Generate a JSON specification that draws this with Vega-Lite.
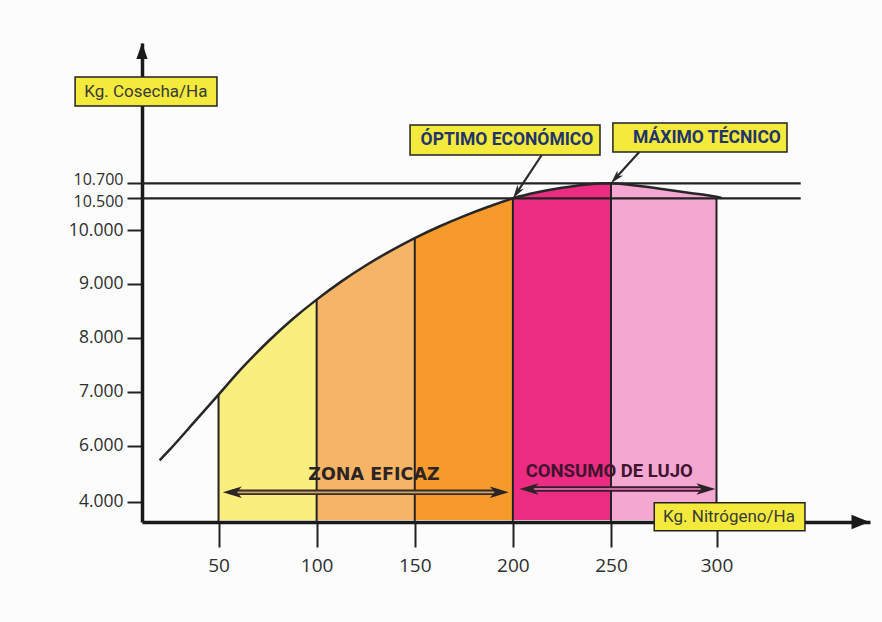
{
  "$schema": "https://vega.github.io/schema/vega-lite/v6.json",
  "autosize": "none",
  "width": 728,
  "height": 479,
  "padding": {"left": 142, "top": 43, "right": 12, "bottom": 100},
  "background": "#fcfcfc",
  "config": {"view": {"stroke": null}, "axis": {"grid": false}},
  "datasets": {
    "curve": [
      {"N": 20, "Y": 5479}, {"N": 25, "Y": 5848}, {"N": 37.5, "Y": 6432}, {"N": 50, "Y": 6948},
      {"N": 62.5, "Y": 7461}, {"N": 75, "Y": 7923}, {"N": 87.5, "Y": 8339}, {"N": 100, "Y": 8709},
      {"N": 112.5, "Y": 9043}, {"N": 125, "Y": 9342}, {"N": 137.5, "Y": 9609}, {"N": 150, "Y": 9850},
      {"N": 162.5, "Y": 10055}, {"N": 175, "Y": 10219}, {"N": 187.5, "Y": 10366}, {"N": 200, "Y": 10500},
      {"N": 212.5, "Y": 10580}, {"N": 225, "Y": 10640}, {"N": 237.5, "Y": 10685}, {"N": 250, "Y": 10700},
      {"N": 262.5, "Y": 10668}, {"N": 275, "Y": 10622}, {"N": 287.5, "Y": 10572}, {"N": 300, "Y": 10520},
      {"N": 302.5, "Y": 10505}
    ],
    "bands": [
      {"band": "50-100", "N": 50, "Y": 6948}, {"band": "50-100", "N": 62.5, "Y": 7461}, {"band": "50-100", "N": 75, "Y": 7923}, {"band": "50-100", "N": 87.5, "Y": 8339}, {"band": "50-100", "N": 100, "Y": 8709},
      {"band": "100-150", "N": 100, "Y": 8709}, {"band": "100-150", "N": 112.5, "Y": 9043}, {"band": "100-150", "N": 125, "Y": 9342}, {"band": "100-150", "N": 137.5, "Y": 9609}, {"band": "100-150", "N": 150, "Y": 9850},
      {"band": "150-200", "N": 150, "Y": 9850}, {"band": "150-200", "N": 162.5, "Y": 10055}, {"band": "150-200", "N": 175, "Y": 10219}, {"band": "150-200", "N": 187.5, "Y": 10366}, {"band": "150-200", "N": 200, "Y": 10500},
      {"band": "200-250", "N": 200, "Y": 10500}, {"band": "200-250", "N": 212.5, "Y": 10580}, {"band": "200-250", "N": 225, "Y": 10640}, {"band": "200-250", "N": 237.5, "Y": 10685}, {"band": "200-250", "N": 250, "Y": 10700},
      {"band": "250-300", "N": 250, "Y": 10700}, {"band": "250-300", "N": 262.5, "Y": 10668}, {"band": "250-300", "N": 275, "Y": 10622}, {"band": "250-300", "N": 287.5, "Y": 10572}, {"band": "250-300", "N": 300, "Y": 10520}
    ],
    "vlines": [
      {"N": 50, "Y": 6948}, {"N": 100, "Y": 8709}, {"N": 150, "Y": 9850},
      {"N": 200, "Y": 10500}, {"N": 250, "Y": 10700}, {"N": 300, "Y": 10520}
    ],
    "hlines": [
      {"N": 11, "N2": 341.7, "Y": 10500},
      {"N": 11, "N2": 341.7, "Y": 10700}
    ],
    "boxes": [
      {"N": -23.1, "N2": 49.2, "Y": 11763, "Y2": 11473},
      {"N": 147.6, "N2": 244.4, "Y": 11283, "Y2": 10983},
      {"N": 250.9, "N2": 334.9, "Y": 11303, "Y2": 11013},
      {"N": 270.5, "N2": 343.8, "Y": 3962, "Y2": 2929}
    ],
    "plainLabels": [
      {"N": 13.0, "Y": 11618, "label": "Kg. Cosecha/Ha"},
      {"N": 306.2, "Y": 3446, "label": "Kg. Nitrógeno/Ha"}
    ],
    "boldLabels": [
      {"N": 197.0, "Y": 11133, "label": "ÓPTIMO ECONÓMICO"},
      {"N": 295.5, "Y": 11158, "label": "MÁXIMO TÉCNICO"}
    ],
    "zonaLabel": [{"N": 129.2, "Y": 4964, "label": "ZONA EFICAZ"}],
    "lujoLabel": [{"N": 249.1, "Y": 5085, "label": "CONSUMO DE LUJO"}],
    "zonaShaft": [{"N": 57, "N2": 193.1, "Y": 4336, "Y2": 4336}],
    "lujoShaft": [{"N": 208.2, "N2": 295, "Y": 4453, "Y2": 4453}],
    "headsLeft": [{"N": 57, "Y": 4336}, {"N": 208.2, "Y": 4453}],
    "headsRight": [{"N": 193.1, "Y": 4336}, {"N": 295, "Y": 4453}],
    "pointerShafts": [
      {"N": 214.7, "Y": 10983, "N2": 202.05, "Y2": 10577},
      {"N": 263.4, "Y": 11013, "N2": 252.2, "Y2": 10752}
    ],
    "optimoHead": [{"N": 202.05, "Y": 10577}],
    "maximoHead": [{"N": 252.2, "Y": 10752}],
    "yArrow": [{"N": 11, "Y": 12023}],
    "xArrow": [{"N": 371.3, "Y": 3250}]
  },
  "encoding": {
    "x": {
      "field": "N",
      "type": "quantitative",
      "scale": {"domain": [11, 250, 300, 376], "range": [0, 469, 574.5, 728], "nice": false, "zero": false},
      "axis": {
        "title": null,
        "values": [50, 100, 150, 200, 250, 300],
        "labelFont": "Open Sans",
        "labelFontSize": 19,
        "labelColor": "#2e2e2e",
        "labelPadding": 9,
        "labelFlush": false,
        "labelOverlap": false,
        "domainColor": "#1a1a1a",
        "domainWidth": 3.5,
        "tickColor": "#222222",
        "tickWidth": 2,
        "tickSize": 25
      }
    },
    "y": {
      "field": "Y",
      "type": "quantitative",
      "stack": null,
      "scale": {"domain": [3250, 4000, 6000, 10000, 10500, 10700, 12103], "range": [479, 458.7, 402.7, 187, 155.3, 140.3, 0], "nice": false, "zero": false},
      "axis": {
        "title": null,
        "values": [4000, 6000, 7000, 8000, 9000, 10000, 10500, 10700],
        "labelExpr": "replace(format(datum.value, ','), ',', '.')",
        "labelFont": "Open Sans",
        "labelFontSize": {"condition": {"test": "datum.value >= 10500", "value": 16}, "value": 17.5},
        "labelOffset": {"condition": [{"test": "datum.value == 10700", "value": -3.5}, {"test": "datum.value == 10500", "value": 3.5}], "value": 0},
        "labelColor": "#2e2e2e",
        "labelPadding": 4,
        "labelOverlap": false,
        "labelFlush": false,
        "domainColor": "#1a1a1a",
        "domainWidth": 3.5,
        "tickColor": "#222222",
        "tickWidth": 2,
        "tickSize": 15
      }
    }
  },
  "layer": [
    {
      "data": {"name": "bands"},
      "mark": {"type": "area", "interpolate": "monotone", "opacity": 1},
      "encoding": {
        "y2": {"datum": 3320},
        "color": {
          "field": "band",
          "type": "nominal",
          "scale": {"domain": ["50-100", "100-150", "150-200", "200-250", "250-300"], "range": ["#f9ee7e", "#f6b566", "#f69b2b", "#ec2c82", "#f3a7d1"]},
          "legend": null
        }
      }
    },
    {
      "data": {"name": "vlines"},
      "mark": {"type": "rule", "color": "#222222", "strokeWidth": 2},
      "encoding": {"y2": {"datum": 3250}}
    },
    {
      "data": {"name": "hlines"},
      "mark": {"type": "rule", "color": "#222222", "strokeWidth": 2.2},
      "encoding": {"x2": {"field": "N2"}}
    },
    {
      "data": {"name": "curve"},
      "mark": {"type": "line", "interpolate": "monotone", "color": "#262626", "strokeWidth": 2.5}
    },
    {
      "data": {"name": "yArrow"},
      "mark": {"type": "point", "shape": "M0,-1L0.7,1L-0.7,1Z", "filled": true, "size": 256, "color": "#1a1a1a", "opacity": 1}
    },
    {
      "data": {"name": "xArrow"},
      "mark": {"type": "point", "shape": "M1,0L-1,-0.8L-1,0.8Z", "filled": true, "size": 324, "color": "#1a1a1a", "opacity": 1}
    },
    {
      "data": {"name": "zonaShaft"},
      "mark": {"type": "rule", "color": "#3b2b24", "strokeWidth": 5.5},
      "encoding": {"x2": {"field": "N2"}, "y2": {"field": "Y2"}}
    },
    {
      "data": {"name": "zonaShaft"},
      "mark": {"type": "rule", "color": "#c9a66b", "strokeWidth": 1.8},
      "encoding": {"x2": {"field": "N2"}, "y2": {"field": "Y2"}}
    },
    {
      "data": {"name": "lujoShaft"},
      "mark": {"type": "rule", "color": "#3b1a30", "strokeWidth": 5.5},
      "encoding": {"x2": {"field": "N2"}, "y2": {"field": "Y2"}}
    },
    {
      "data": {"name": "lujoShaft"},
      "mark": {"type": "rule", "color": "#c56a9a", "strokeWidth": 1.8},
      "encoding": {"x2": {"field": "N2"}, "y2": {"field": "Y2"}}
    },
    {
      "data": {"name": "headsLeft"},
      "mark": {"type": "point", "shape": "M-1,0L1,-0.6L0.5,0L1,0.6Z", "filled": true, "size": 361, "color": "#2b2424", "opacity": 1}
    },
    {
      "data": {"name": "headsRight"},
      "mark": {"type": "point", "shape": "M1,0L-1,-0.6L-0.5,0L-1,0.6Z", "filled": true, "size": 361, "color": "#2b2424", "opacity": 1}
    },
    {
      "data": {"name": "zonaLabel"},
      "mark": {"type": "text", "font": "DejaVu Sans", "fontWeight": "bold", "fontSize": 17.5, "color": "#2b2422", "align": "center", "baseline": "middle"},
      "encoding": {"text": {"field": "label"}}
    },
    {
      "data": {"name": "lujoLabel"},
      "mark": {"type": "text", "font": "Roboto", "fontWeight": "bold", "fontSize": 18.5, "color": "#40142f", "align": "center", "baseline": "middle"},
      "encoding": {"text": {"field": "label"}}
    },
    {
      "data": {"name": "boxes"},
      "mark": {"type": "rect", "fill": "#f3ea3c", "stroke": "#222222", "strokeWidth": 1.5},
      "encoding": {"x2": {"field": "N2"}, "y2": {"field": "Y2"}}
    },
    {
      "data": {"name": "plainLabels"},
      "mark": {"type": "text", "font": "Roboto", "fontSize": 17, "color": "#3a3a3a", "align": "center", "baseline": "middle"},
      "encoding": {"text": {"field": "label"}}
    },
    {
      "data": {"name": "boldLabels"},
      "mark": {"type": "text", "font": "Roboto", "fontWeight": "bold", "fontSize": 17.5, "color": "#23336b", "align": "center", "baseline": "middle"},
      "encoding": {"text": {"field": "label"}}
    },
    {
      "data": {"name": "pointerShafts"},
      "mark": {"type": "rule", "color": "#2a2a2a", "strokeWidth": 2.2},
      "encoding": {"x2": {"field": "N2"}, "y2": {"field": "Y2"}}
    },
    {
      "data": {"name": "optimoHead"},
      "mark": {"type": "point", "shape": "M1,0L-1,-0.55L-0.4,0L-1,0.55Z", "filled": true, "size": 196, "angle": 123.5, "color": "#2a2a2a", "opacity": 1}
    },
    {
      "data": {"name": "maximoHead"},
      "mark": {"type": "point", "shape": "M1,0L-1,-0.55L-0.4,0L-1,0.55Z", "filled": true, "size": 196, "angle": 132.1, "color": "#2a2a2a", "opacity": 1}
    }
  ]
}
